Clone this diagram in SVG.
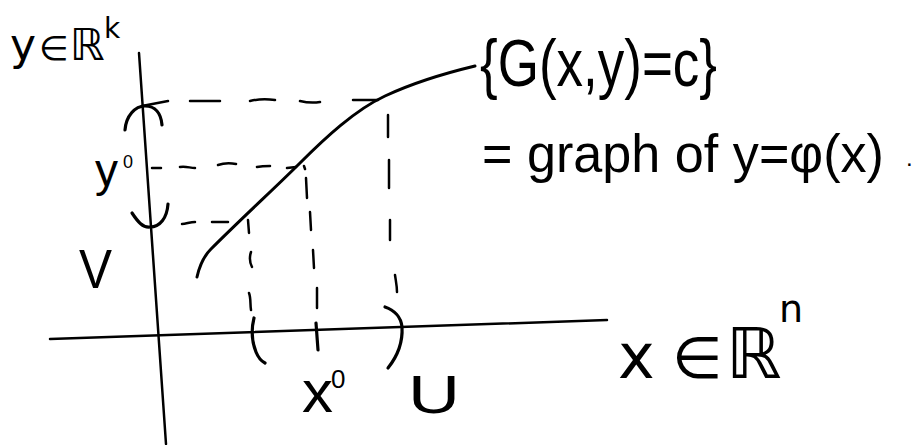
<svg xmlns="http://www.w3.org/2000/svg" width="922" height="445" viewBox="0 0 922 445">
<style>
.ln{fill:none;stroke:#000;stroke-linecap:round;stroke-linejoin:round}
.axis{stroke-width:2.5}
.curve{stroke-width:3}
.dash{stroke-width:2.5}
.br{stroke-width:3.2}
.t{font-family:"Liberation Sans","DejaVu Sans",sans-serif;fill:#000}
.m{font-family:"DejaVu Sans","Liberation Sans",sans-serif;fill:#000}
</style>
<rect width="922" height="445" fill="#fff"/>
<g id="axes">
<path class="ln axis" d="M50,339 L607,320"/>
<path class="ln axis" d="M139,53 L166,444"/>
</g>
<g id="graph-curve">
<path class="ln curve" d="M197,277 C199,268 202,258 211,249 C245,215 275,188 300,163 S355,110 385,96 S450,72 475,66"/>
</g>
<g id="dashes">
<path class="ln dash" d="M142,106 L168,101 M190,101 L220,101 M250,101 C258,99 268,99 275,100 M300,101 C308,103 314,103 320,102 M353,100 L378,100"/>
<path class="ln dash" d="M152,168 L161,168 M180,167 C186,166 190,168 195,168 M218,165 C224,163 230,163 236,164 M257,167 C262,166 266,166 270,166 M287,168 L296,167"/>
<path class="ln dash" d="M182,224 C186,224 190,222 195,222 M212,222 L228,222"/>
<path class="ln dash" d="M248,220 L249,233 M251,252 C249,258 250,263 252,267 M249,293 C251,298 250,304 251,310"/>
<path class="ln dash" d="M304,166 L305,169 M306,178 L307,198 M310,212 L311,230 M313,250 L314,268 M317,288 L317,308"/>
<path class="ln dash" d="M388,115 L388,137 M389,160 L389,188 M390,220 L390,240 M395,275 C396,282 397,286 397,292"/>
</g>
<g id="brackets">
<path class="ln br" d="M125,130 C126,116 135,106 145,106 C155,106 161,113 162,125"/>
<path class="ln br" d="M132,213 C138,222 143,228 150,227 C160,227 167,218 168,204"/>
<path class="ln br" d="M254,318 C251,330 252,342 256,352 C258,357 261,361 265,363"/>
<path class="ln br" d="M385,307 C394,310 401,317 402,327 C403,344 396,358 388,368"/>
<path class="ln br" d="M316,323 L318,350"/>
</g>
<g id="labels">
<text class="m" y="60" font-size="44"><tspan x="10">y</tspan><tspan x="39" font-size="34">∈</tspan><tspan x="70">ℝ</tspan><tspan x="104" y="38" font-size="28">k</tspan></text>
<text class="t" x="95" y="186" font-size="46">y</text>
<text class="t" x="123" y="168" font-size="18">0</text>
<text class="t" x="79" y="288" font-size="56" textLength="33" lengthAdjust="spacingAndGlyphs">V</text>
<text class="t" x="302" y="412" font-size="60" textLength="31" lengthAdjust="spacingAndGlyphs">x</text>
<text class="t" x="331" y="388" font-size="26">0</text>
<text class="t" x="408" y="413" font-size="54" textLength="52" lengthAdjust="spacingAndGlyphs">U</text>
<text class="m" y="378" font-size="70"><tspan x="618" font-size="62">x</tspan><tspan x="672" font-size="58">∈</tspan><tspan x="726">ℝ</tspan><tspan x="779" y="322" font-size="38">n</tspan></text>
<text class="t" x="480" y="86" font-size="66" textLength="237" lengthAdjust="spacingAndGlyphs">{G(x,y)=c}</text>
<text class="t" x="482" y="172" font-size="54" textLength="402" lengthAdjust="spacingAndGlyphs">= graph of y=φ(x)</text>
<text class="t" x="906" y="166" font-size="24">.</text>
</g>
</svg>
